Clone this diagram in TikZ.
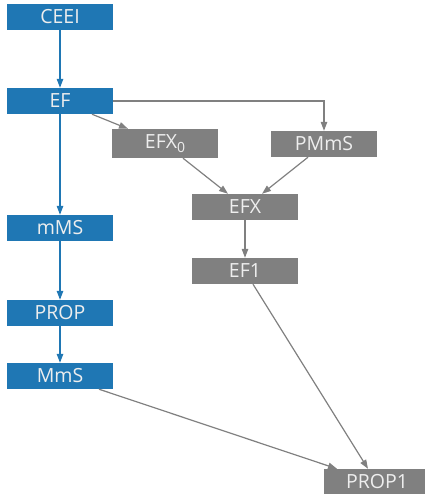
\documentclass[tikz,border=0pt]{standalone}
\usepackage{fontspec}
\setmainfont{Open Sans}
\usepackage{tikz}
\usetikzlibrary{arrows.meta,positioning}
\definecolor{tabblue}{HTML}{1F77B4}
\definecolor{midgray}{HTML}{808080}
\definecolor{paletext}{HTML}{EEEEEE}

\begin{document}
\begin{tikzpicture}[x=1pt, y=-1pt,
  bbox/.style={rectangle, fill=tabblue, text=paletext, minimum width=106pt, minimum height=26pt, inner sep=0pt, font=\fontsize{19.5}{22}\selectfont},
  gbox/.style={bbox, fill=midgray},
  barrow/.style={draw=tabblue, line width=1.2pt, -{Triangle[length=9pt, width=6.5pt]}},
  garrow/.style={draw=midgray, line width=1.2pt, -{Triangle[length=9pt, width=6.5pt]}}
]
\useasboundingbox (0,0) rectangle (424,494);

\node[bbox] (ceei) at (60,17) {CEEI};
\node[bbox] (ef) at (60,101) {EF};
\node[bbox] (mms) at (60,228) {mMS};
\node[bbox] (prop) at (60,313) {PROP};
\node[bbox] (mmsmax) at (60,376) {MmS};

\node[gbox, minimum height=29pt] (efxzero) at (165,143.5) {EFX\raisebox{-4pt}{\fontsize{14}{14}\selectfont 0}};
\node[gbox] (pmms) at (324,144) {PMmS};
\node[gbox] (efx) at (245,207) {EFX};
\node[gbox] (efone) at (245,271) {EF1};
\node[gbox] (propone) at (377,482) {PROP1};

\draw[barrow] (ceei) -- (ef);
\draw[barrow] (ef) -- (mms);
\draw[barrow] (mms) -- (prop);
\draw[barrow] (prop) -- (mmsmax);

\draw[garrow] ([xshift=32pt]ef.south) -- ([xshift=-37pt]efxzero.north);
\draw[garrow] (ef.east) -| (pmms.north);
\draw[garrow] ([xshift=18pt]efxzero.south) -- ([xshift=-17pt]efx.north);
\draw[garrow] ([xshift=-16pt]pmms.south) -- ([xshift=17pt]efx.north);
\draw[garrow] (efx) -- (efone);
\draw[garrow] ([xshift=8pt]efone.south) -- ([xshift=-9pt]propone.north);
\draw[garrow] ([xshift=39pt]mmsmax.south) -- ([xshift=-40pt]propone.north);
\end{tikzpicture}
\end{document}
